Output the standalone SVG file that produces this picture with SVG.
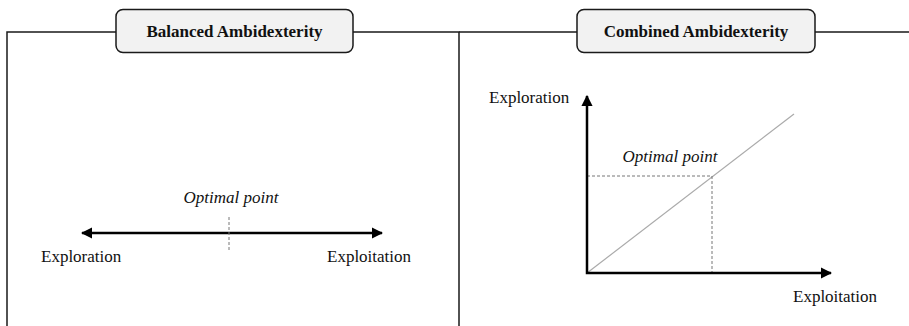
<svg xmlns="http://www.w3.org/2000/svg" width="909" height="326" viewBox="0 0 909 326">
<style>
.frame{fill:none;stroke:#1a1a1a;stroke-width:1.5}
.title{fill:#f2f2f2;stroke:#1a1a1a;stroke-width:1.5}
.tt{font-family:"Liberation Serif","Times New Roman",serif;font-weight:bold;font-size:17px;fill:#111;text-anchor:middle}
.lbl{font-family:"Liberation Serif","Times New Roman",serif;font-size:17px;fill:#111}
.it{font-style:italic;text-anchor:middle}
.axis{stroke:#000;stroke-width:2.5;fill:none}
.dash{stroke:#777;stroke-width:1;stroke-dasharray:3,2;fill:none}
.diag{stroke:#aaa;stroke-width:1.2;fill:none}
</style>
<defs>
<marker id="ah" viewBox="0 0 10 10" refX="9" refY="5" markerWidth="4.5" markerHeight="4.5" orient="auto-start-reverse" markerUnits="strokeWidth">
<path d="M0,0 L10,5 L0,10 z" fill="#000"/>
</marker>
</defs>
<g id="frames">
<path class="frame" d="M7,326 V32 H116 M353,32 H459 V326"/>
<path class="frame" d="M459,32 H577 M815,32 H909"/>
</g>
<g id="balanced-title">
<rect class="title" x="116" y="9.5" width="237" height="43" rx="7"/>
<text class="tt" x="234.5" y="37">Balanced Ambidexterity</text>
</g>
<g id="combined-title">
<rect class="title" x="577" y="9.5" width="238" height="43" rx="7"/>
<text class="tt" x="696" y="37">Combined Ambidexterity</text>
</g>
<g id="connectors">
<line class="axis" x1="82" y1="233" x2="382" y2="233" marker-start="url(#ah)" marker-end="url(#ah)"/>
<line class="dash" x1="229" y1="217" x2="229" y2="252"/>
<line class="diag" x1="587" y1="273" x2="794" y2="114"/>
<polyline class="dash" points="587,176 712,176 712,273"/>
<polyline class="axis" points="587,96 587,273 831,273" marker-start="url(#ah)" marker-end="url(#ah)"/>
</g>
<g id="balanced-labels">
<text class="lbl it" x="231" y="203">Optimal point</text>
<text class="lbl" x="41" y="262">Exploration</text>
<text class="lbl" x="327" y="262">Exploitation</text>
</g>
<g id="combined-labels">
<text class="lbl it" x="670" y="162">Optimal point</text>
<text class="lbl" x="489" y="103">Exploration</text>
<text class="lbl" x="793" y="302">Exploitation</text>
</g>
</svg>
